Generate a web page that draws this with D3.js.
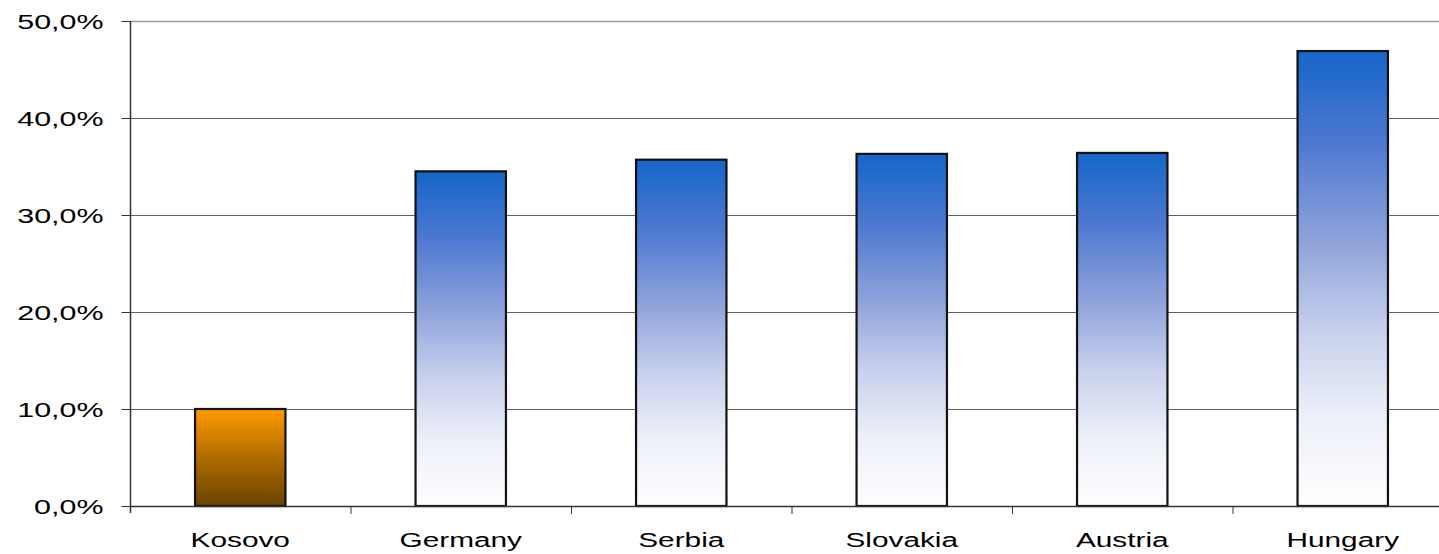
<!DOCTYPE html>
<html>
<head>
<meta charset="utf-8">
<script src="https://cdn.jsdelivr.net/npm/d3@7"></script>
<style>
html,body{margin:0;padding:0;background:#fff;}
svg{display:block;}
text{font-family:"Liberation Sans",Arial,Helvetica,sans-serif;fill:#000;}
</style>
</head>
<body>
<svg id="chart" width="1439" height="554"></svg>
<script>
const categories = ["Kosovo","Germany","Serbia","Slovakia","Austria","Hungary"];
const values = [10.0, 34.5, 35.7, 36.3, 36.4, 46.9];
const highlight = ["Kosovo"];
const yTicks = [0,10,20,30,40,50];

const W = 1439, H = 554;
const m = {left:130, top:21, bottom:48};
const plotW = 6*220.5;
const svg = d3.select("#chart");

const defs = svg.append("defs");
const gb = defs.append("linearGradient").attr("id","gBlue").attr("x1",0).attr("y1",0).attr("x2",0).attr("y2",1);
[[0,"#1566c9"],[0.2,"#4d78d0"],[0.42,"#8fa3db"],[0.62,"#c9d1ed"],[0.8,"#eceff8"],[1,"#ffffff"]]
  .forEach(s=>gb.append("stop").attr("offset",s[0]).attr("stop-color",s[1]));
const go = defs.append("linearGradient").attr("id","gOrange").attr("x1",0).attr("y1",0).attr("x2",0).attr("y2",1);
[[0,"#ff9a00"],[0.5,"#b06c00"],[1,"#6a4200"]]
  .forEach(s=>go.append("stop").attr("offset",s[0]).attr("stop-color",s[1]));

const x = d3.scaleBand().domain(categories).range([m.left, m.left+plotW]).paddingInner(0.59).paddingOuter(0.295);
const y = d3.scaleLinear().domain([0,50]).range([506, 21]);

// gridlines
svg.append("g").selectAll("line").data(yTicks.filter(d=>d>0)).join("line")
  .attr("x1", m.left).attr("x2", W).attr("y1", d=>y(d)+0.5).attr("y2", d=>y(d)+0.5)
  .attr("stroke", d=>d===50?"#9a9a9a":"#606060").attr("stroke-width", d=>d===50?1.5:1);

// y axis
const ya = svg.append("g").attr("transform",`translate(${m.left+0.5},0)`)
  .call(d3.axisLeft(y).tickValues(yTicks).tickSize(9).tickFormat(d=>d3.format(".1f")(d).replace(".",",")+"%"));
ya.select(".domain").attr("stroke","#333").attr("stroke-width",1.5).attr("d",`M-0,${y(50)}V513`);
ya.selectAll(".tick line").attr("stroke","#333");
ya.selectAll(".tick text").attr("font-size",21).attr("x",0)
  .attr("transform","translate(-27,0) scale(1.45,1)").attr("text-anchor","end").attr("dy","0.36em");

// bars
svg.append("g").selectAll("rect").data(categories).join("rect")
  .attr("x", d=>x(d)).attr("width", x.bandwidth())
  .attr("y", (d,i)=>y(values[i])).attr("height",(d,i)=>y(0)-y(values[i]))
  .attr("fill", d=>highlight.includes(d)?"url(#gOrange)":"url(#gBlue)")
  .attr("stroke","#111").attr("stroke-width",2.2);

// x axis
svg.append("line").attr("x1",m.left).attr("x2",W).attr("y1",y(0)+0.5).attr("y2",y(0)+0.5).attr("stroke","#333").attr("stroke-width",1.5);
const sepTicks = d3.range(1,6);
svg.append("g").selectAll("line").data(sepTicks).join("line")
  .attr("x1",i=>m.left+i*220.5+0.5).attr("x2",i=>m.left+i*220.5+0.5)
  .attr("y1",y(0)).attr("y2",y(0)+8).attr("stroke","#333").attr("stroke-width",1);

svg.append("g").selectAll("text").data(categories).join("text")
  .attr("transform", d=>`translate(${x(d)+x.bandwidth()/2},547) scale(1.42,1)`)
  .attr("text-anchor","middle").attr("font-size",21).text(d=>d);
</script>
</body>
</html>
